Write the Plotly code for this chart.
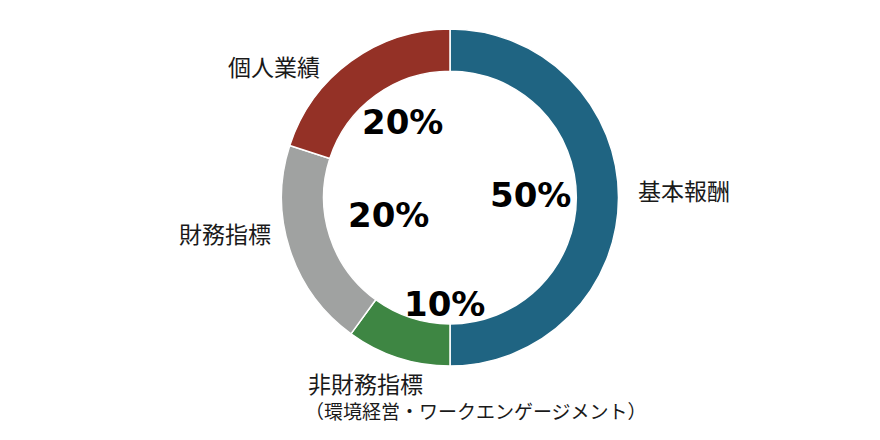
import plotly.graph_objects as go

# Data
categories = ['基本報酬', '非財務指標（環境経営・ワークエンゲージメント）', '財務指標', '個人業績']
shares = [50, 10, 20, 20]
pct_labels = ['50%', '10%', '20%', '20%']
colors = ['#1f6482', '#3e8643', '#a0a2a1', '#943126']

W, H = 880, 440
OFF = 8  # page body margin pushes the plot down/right by 8px
cx, cy, r = 450, 197.5, 168.5

def px(x, y):
    # pixel position in the screenshot -> paper coords
    return (x - OFF) / W, 1 - (y - OFF) / H

fig = go.Figure(go.Pie(
    labels=categories,
    values=shares,
    marker={'colors': colors, 'line': {'color': 'white', 'width': 1.5}},
    hole=0.75,
    sort=False,
    direction='clockwise',
    rotation=0,
    textinfo='none',
    hoverinfo='label+percent',
    showlegend=False,
    domain={'x': [(cx - OFF - r) / W, (cx - OFF + r) / W],
            'y': [1 - (cy - OFF + r) / H, 1 - (cy - OFF - r) / H]},
))

# percent labels sit inside the hole
pct_pos = [(530, 195), (444, 304), (388, 215), (402, 122)]
for txt, (x, y) in zip(pct_labels, pct_pos):
    ax, ay = px(x, y)
    fig.add_annotation(x=ax, y=ay, xref='paper', yref='paper', text=txt, showarrow=False,
                       xanchor='center', yanchor='middle',
                       font={'family': 'DejaVu Sans', 'size': 34, 'color': 'black', 'weight': 'bold'})

# category labels around the ring (the long one is split on two lines)
label_texts = ['基本報酬', '非財務指標', '（環境経営・ワークエンゲージメント）', '財務指標', '個人業績']
label_pos = [(636, 190, 'left', 23), (306, 383, 'left', 23), (303, 410, 'left', 19),
             (273, 233, 'right', 23), (322, 66, 'right', 23)]
for txt, (x, y, anchor, size) in zip(label_texts, label_pos):
    ax, ay = px(x, y)
    fig.add_annotation(x=ax, y=ay, xref='paper', yref='paper', text=txt, showarrow=False,
                       xanchor=anchor, yanchor='middle',
                       font={'family': 'Noto Sans CJK JP', 'size': size, 'color': '#1a1a1a'})

fig.update_layout(
    width=W, height=H,
    margin={'l': 0, 'r': 0, 't': 0, 'b': 0},
    paper_bgcolor='white',
    plot_bgcolor='white',
)
fig.write_html("out.html")
